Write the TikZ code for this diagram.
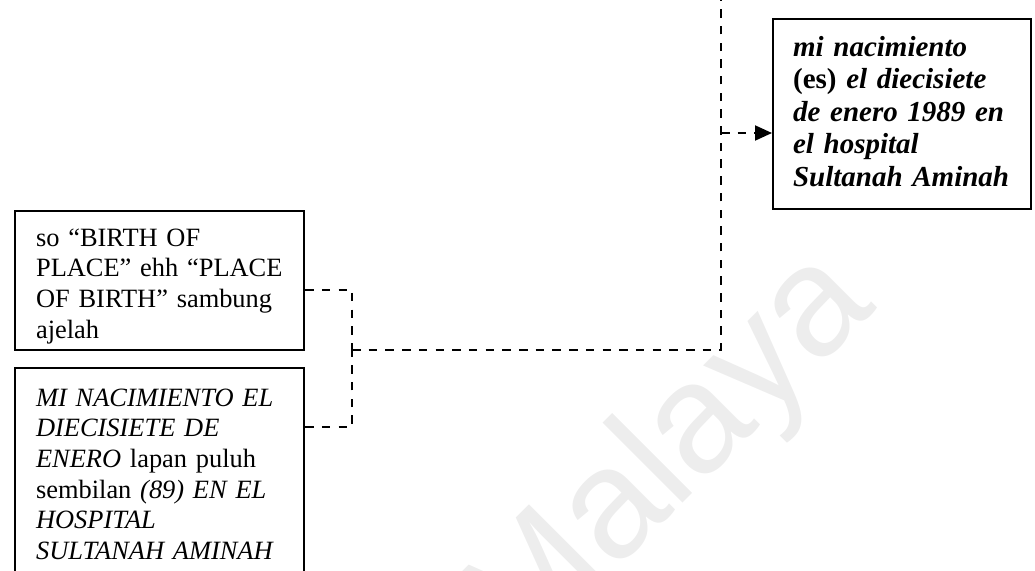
\documentclass[tikz,border=0pt]{standalone}
\usepackage{fontspec}
\setmainfont{Liberation Serif}
\newfontfamily\wmfont{Liberation Sans}
\usetikzlibrary{arrows.meta}

\begin{document}
\begin{tikzpicture}[x=1pt,y=-1pt,
  box/.style={draw, line width=2.2pt, anchor=north west, align=left,
    inner ysep=0pt, inner xsep=21pt,
    font=\fontsize{26.4}{30.7}\selectfont},
  bigbox/.style={box, inner xsep=20pt,
    font=\fontsize{29}{32.5}\selectfont\bfseries\itshape},
  conn/.style={line width=2pt, dash pattern=on 8.5pt off 8.2pt},
  tipped/.style={conn, -{Triangle[length=17pt,width=15pt]}},
  watermark/.style={font=\wmfont\fontsize{156}{160}\selectfont,
    text=black!7, rotate=45, anchor=base west, inner sep=0pt},
]
\useasboundingbox (0,0) rectangle (1035,570);
\clip (0,0) rectangle (1035,570);

% background watermark
\node[watermark] (wm) at (522,664) {Malaya};

% text boxes
\node[box, text width=247pt, text height=35pt, text depth=104.1pt] (b1) at (14,210)
  {\mbox{so “BIRTH OF}\\
   \mbox{PLACE” ehh “PLACE}\\
   \mbox{OF BIRTH” sambung}\\
   \mbox{ajelah}};

\node[box, text width=247pt, text height=38pt, text depth=185pt] (b2) at (14,367)
  {\mbox{\textit{MI NACIMIENTO EL}}\\
   \mbox{\textit{DIECISIETE DE}}\\
   \mbox{\textit{ENERO} lapan puluh}\\
   \mbox{sembilan \textit{(89) EN EL}}\\
   \mbox{\textit{HOSPITAL}}\\
   \mbox{\textit{SULTANAH AMINAH}}};

\node[bigbox, text width=218pt, text height=37pt, text depth=153pt] (b3) at (772,18)
  {\mbox{mi nacimiento}\\
   \mbox{{\upshape (es)} el diecisiete}\\
   \mbox{de enero 1989 en}\\
   \mbox{el hospital}\\
   \mbox{Sultanah Aminah}};

% connector points
\coordinate (junc) at (352,350);
\coordinate (spine) at (721,350);
\coordinate (top) at (721,-20);
\coordinate (tap) at (721,133);

% bracket joining the two left boxes
\draw[conn] ([yshift=-9pt]b1.east) -| (junc);
\draw[conn] ([yshift=-60pt]b2.north east) -| (junc);
% line running right and up
\draw[conn] (junc) -- (spine) -- (top);
% arrow into the right box
\draw[tipped] (tap) -- (b3.west |- tap);
\end{tikzpicture}
\end{document}
